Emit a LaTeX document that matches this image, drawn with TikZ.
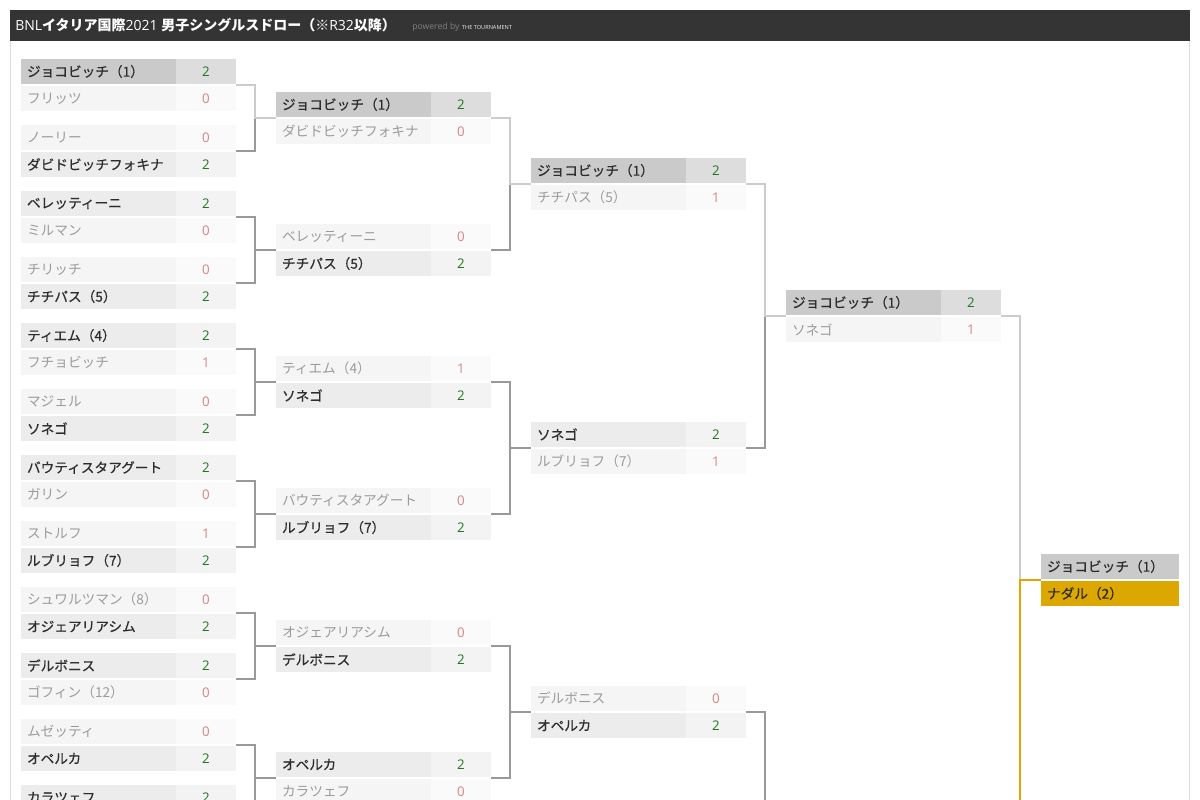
\documentclass[tikz,border=0pt]{standalone}
\usepackage{fontspec}
\setmainfont{Open Sans}
\newfontfamily\jpfont{Noto Sans CJK JP}
\newfontfamily\jpwin[FakeBold=0.6]{Noto Sans CJK JP}
\usetikzlibrary{positioning}
\definecolor{headgray}{RGB}{52, 52, 52}
\definecolor{panelline}{RGB}{221, 221, 221}
\definecolor{djgray}{RGB}{202, 202, 202}
\definecolor{djscoregray}{RGB}{221, 221, 221}
\definecolor{wingray}{RGB}{236, 236, 236}
\definecolor{winscoregray}{RGB}{243, 243, 243}
\definecolor{losegray}{RGB}{245, 245, 245}
\definecolor{losescoregray}{RGB}{250, 250, 250}
\definecolor{wintext}{RGB}{45, 45, 45}
\definecolor{losetext}{RGB}{155, 155, 155}
\definecolor{wingreen}{RGB}{30, 120, 30}
\definecolor{losered}{RGB}{214, 132, 132}
\definecolor{linegray}{RGB}{153, 153, 153}
\definecolor{djline}{RGB}{204, 204, 204}
\definecolor{nadalgold}{RGB}{220, 168, 0}

\begin{document}
\begin{tikzpicture}[
    x=0.75pt, y=-0.75pt,
    namecell/.style={
        anchor=north west, minimum height=18.75pt, outer sep=0pt,
        text width=107.25pt, align=left, inner xsep=4.5pt, inner ysep=0pt,
        font=\jpfont\fontsize{10.25}{12}\selectfont
    },
    winname/.style={namecell, fill=wingray, text=wintext, font=\jpwin\fontsize{10.25}{12}\selectfont},
    losename/.style={namecell, fill=losegray, text=losetext},
    djname/.style={winname, fill=djgray},
    finalname/.style={winname, text width=94.5pt},
    scorecell/.style={
        minimum width=45pt, minimum height=18.75pt, inner sep=0pt, outer sep=0pt,
        font=\fontsize{10}{12}\selectfont
    },
    winscore/.style={scorecell, fill=winscoregray, text=wingreen},
    losescore/.style={scorecell, fill=losescoregray, text=losered},
    djscore/.style={scorecell, fill=djscoregray, text=wingreen},
    link/.style={draw=linegray, line width=1.5pt},
    djlink/.style={draw=djline, line width=1.5pt},
    goldlink/.style={draw=nadalgold, line width=1.5pt}
]
\useasboundingbox (0,0) rectangle (1200,800);
\clip (0,0) rectangle (1200,800);
\fill[white] (0,0) rectangle (1200,800);

% HEADER
\fill[headgray] (10,10) rectangle (1190,41);
\draw[panelline, line width=0.75pt] (10.5,41) -- (10.5,800) (1189.5,41) -- (1189.5,800);
\node[anchor=west, inner sep=0pt, text=white, font=\fontsize{10.5}{12}\selectfont] (title) at (15,25)
    {BNL{\jpfont\bfseries イタリア国際}2021 {\jpfont\bfseries 男子シングルスドロー（※}R32{\jpfont\bfseries 以降）}};
\node[anchor=base west, inner sep=0pt, text=gray, font=\fontsize{6.5}{8}\selectfont] (powered) at (412,29) {powered by};
\node[anchor=base west, inner sep=0pt, text=white!85!gray, font=\fontsize{4.2}{5}\selectfont] (brand)
    at ([xshift=1.5pt]powered.base east) {THE TOURNAMENT};

% ROUND OF 32
\node[djname] (r1m0a) at (21,59) {ジョコビッチ（1）};
\node[djscore, right=0pt of r1m0a] (r1m0as) {2};
\node[losename, below=1.5pt of r1m0a] (r1m0b) {フリッツ};
\node[losescore, right=0pt of r1m0b] (r1m0bs) {0};

\node[losename] (r1m1a) at (21,125) {ノーリー};
\node[losescore, right=0pt of r1m1a] (r1m1as) {0};
\node[winname, below=1.5pt of r1m1a] (r1m1b) {ダビドビッチフォキナ};
\node[winscore, right=0pt of r1m1b] (r1m1bs) {2};

\node[winname] (r1m2a) at (21,191) {ベレッティーニ};
\node[winscore, right=0pt of r1m2a] (r1m2as) {2};
\node[losename, below=1.5pt of r1m2a] (r1m2b) {ミルマン};
\node[losescore, right=0pt of r1m2b] (r1m2bs) {0};

\node[losename] (r1m3a) at (21,257) {チリッチ};
\node[losescore, right=0pt of r1m3a] (r1m3as) {0};
\node[winname, below=1.5pt of r1m3a] (r1m3b) {チチパス（5）};
\node[winscore, right=0pt of r1m3b] (r1m3bs) {2};

\node[winname] (r1m4a) at (21,323) {ティエム（4）};
\node[winscore, right=0pt of r1m4a] (r1m4as) {2};
\node[losename, below=1.5pt of r1m4a] (r1m4b) {フチョビッチ};
\node[losescore, right=0pt of r1m4b] (r1m4bs) {1};

\node[losename] (r1m5a) at (21,389) {マジェル};
\node[losescore, right=0pt of r1m5a] (r1m5as) {0};
\node[winname, below=1.5pt of r1m5a] (r1m5b) {ソネゴ};
\node[winscore, right=0pt of r1m5b] (r1m5bs) {2};

\node[winname] (r1m6a) at (21,455) {バウティスタアグート};
\node[winscore, right=0pt of r1m6a] (r1m6as) {2};
\node[losename, below=1.5pt of r1m6a] (r1m6b) {ガリン};
\node[losescore, right=0pt of r1m6b] (r1m6bs) {0};

\node[losename] (r1m7a) at (21,521) {ストルフ};
\node[losescore, right=0pt of r1m7a] (r1m7as) {1};
\node[winname, below=1.5pt of r1m7a] (r1m7b) {ルブリョフ（7）};
\node[winscore, right=0pt of r1m7b] (r1m7bs) {2};

\node[losename] (r1m8a) at (21,587) {シュワルツマン（8）};
\node[losescore, right=0pt of r1m8a] (r1m8as) {0};
\node[winname, below=1.5pt of r1m8a] (r1m8b) {オジェアリアシム};
\node[winscore, right=0pt of r1m8b] (r1m8bs) {2};

\node[winname] (r1m9a) at (21,653) {デルボニス};
\node[winscore, right=0pt of r1m9a] (r1m9as) {2};
\node[losename, below=1.5pt of r1m9a] (r1m9b) {ゴフィン（12）};
\node[losescore, right=0pt of r1m9b] (r1m9bs) {0};

\node[losename] (r1m10a) at (21,719) {ムゼッティ};
\node[losescore, right=0pt of r1m10a] (r1m10as) {0};
\node[winname, below=1.5pt of r1m10a] (r1m10b) {オペルカ};
\node[winscore, right=0pt of r1m10b] (r1m10bs) {2};

\node[winname] (r1m11a) at (21,785) {カラツェフ};
\node[winscore, right=0pt of r1m11a] (r1m11as) {2};

% ROUND OF 16
\node[djname] (r2m0a) at (276,92) {ジョコビッチ（1）};
\node[djscore, right=0pt of r2m0a] (r2m0as) {2};
\node[losename, below=1.5pt of r2m0a] (r2m0b) {ダビドビッチフォキナ};
\node[losescore, right=0pt of r2m0b] (r2m0bs) {0};

\node[losename] (r2m1a) at (276,224) {ベレッティーニ};
\node[losescore, right=0pt of r2m1a] (r2m1as) {0};
\node[winname, below=1.5pt of r2m1a] (r2m1b) {チチパス（5）};
\node[winscore, right=0pt of r2m1b] (r2m1bs) {2};

\node[losename] (r2m2a) at (276,356) {ティエム（4）};
\node[losescore, right=0pt of r2m2a] (r2m2as) {1};
\node[winname, below=1.5pt of r2m2a] (r2m2b) {ソネゴ};
\node[winscore, right=0pt of r2m2b] (r2m2bs) {2};

\node[losename] (r2m3a) at (276,488) {バウティスタアグート};
\node[losescore, right=0pt of r2m3a] (r2m3as) {0};
\node[winname, below=1.5pt of r2m3a] (r2m3b) {ルブリョフ（7）};
\node[winscore, right=0pt of r2m3b] (r2m3bs) {2};

\node[losename] (r2m4a) at (276,620) {オジェアリアシム};
\node[losescore, right=0pt of r2m4a] (r2m4as) {0};
\node[winname, below=1.5pt of r2m4a] (r2m4b) {デルボニス};
\node[winscore, right=0pt of r2m4b] (r2m4bs) {2};

\node[winname] (r2m5a) at (276,752) {オペルカ};
\node[winscore, right=0pt of r2m5a] (r2m5as) {2};
\node[losename, below=1.5pt of r2m5a] (r2m5b) {カラツェフ};
\node[losescore, right=0pt of r2m5b] (r2m5bs) {0};

% QUARTER-FINALS
\node[djname] (qfm0a) at (531,158) {ジョコビッチ（1）};
\node[djscore, right=0pt of qfm0a] (qfm0as) {2};
\node[losename, below=1.5pt of qfm0a] (qfm0b) {チチパス（5）};
\node[losescore, right=0pt of qfm0b] (qfm0bs) {1};

\node[winname] (qfm1a) at (531,422) {ソネゴ};
\node[winscore, right=0pt of qfm1a] (qfm1as) {2};
\node[losename, below=1.5pt of qfm1a] (qfm1b) {ルブリョフ（7）};
\node[losescore, right=0pt of qfm1b] (qfm1bs) {1};

\node[losename] (qfm2a) at (531,686) {デルボニス};
\node[losescore, right=0pt of qfm2a] (qfm2as) {0};
\node[winname, below=1.5pt of qfm2a] (qfm2b) {オペルカ};
\node[winscore, right=0pt of qfm2b] (qfm2bs) {2};

% SEMI-FINAL AND FINAL
\node[djname] (sfm0a) at (786,290) {ジョコビッチ（1）};
\node[djscore, right=0pt of sfm0a] (sfm0as) {2};
\node[losename, below=1.5pt of sfm0a] (sfm0b) {ソネゴ};
\node[losescore, right=0pt of sfm0b] (sfm0bs) {1};

\node[finalname, fill=djgray] (fina) at (1041,554) {ジョコビッチ（1）};
\node[finalname, fill=nadalgold, below=1.5pt of fina] (finb) {ナダル（2）};

% free ends where the bracket runs off the bottom
\coordinate (r1cut) at (255,800);
\coordinate (qfcut) at (765,800);
\coordinate (sfcut) at (1020,800);

% BRACKET LINES: R32 -> R16
\draw[link] ([yshift=-0.75pt]r1m1as.south east) -- ++(19,0) |- ([yshift=-0.75pt]r2m0a.south west);
\draw[djlink] ([yshift=-0.75pt]r1m0as.south east) -- ++(19,0) |- ([yshift=-0.75pt]r2m0a.south west);
\draw[link] ([yshift=-0.75pt]r1m2as.south east) -- ++(19,0) |- ([yshift=-0.75pt]r2m1a.south west);
\draw[link] ([yshift=-0.75pt]r1m3as.south east) -- ++(19,0) |- ([yshift=-0.75pt]r2m1a.south west);
\draw[link] ([yshift=-0.75pt]r1m4as.south east) -- ++(19,0) |- ([yshift=-0.75pt]r2m2a.south west);
\draw[link] ([yshift=-0.75pt]r1m5as.south east) -- ++(19,0) |- ([yshift=-0.75pt]r2m2a.south west);
\draw[link] ([yshift=-0.75pt]r1m6as.south east) -- ++(19,0) |- ([yshift=-0.75pt]r2m3a.south west);
\draw[link] ([yshift=-0.75pt]r1m7as.south east) -- ++(19,0) |- ([yshift=-0.75pt]r2m3a.south west);
\draw[link] ([yshift=-0.75pt]r1m8as.south east) -- ++(19,0) |- ([yshift=-0.75pt]r2m4a.south west);
\draw[link] ([yshift=-0.75pt]r1m9as.south east) -- ++(19,0) |- ([yshift=-0.75pt]r2m4a.south west);
\draw[link] ([yshift=-0.75pt]r1m10as.south east) -- ++(19,0) |- ([yshift=-0.75pt]r2m5a.south west);
\draw[link] (r1cut) |- ([yshift=-0.75pt]r2m5a.south west);

% BRACKET LINES: R16 -> QF
\draw[link] ([yshift=-0.75pt]r2m1as.south east) -- ++(19,0) |- ([yshift=-0.75pt]qfm0a.south west);
\draw[djlink] ([yshift=-0.75pt]r2m0as.south east) -- ++(19,0) |- ([yshift=-0.75pt]qfm0a.south west);
\draw[link] ([yshift=-0.75pt]r2m2as.south east) -- ++(19,0) |- ([yshift=-0.75pt]qfm1a.south west);
\draw[link] ([yshift=-0.75pt]r2m3as.south east) -- ++(19,0) |- ([yshift=-0.75pt]qfm1a.south west);
\draw[link] ([yshift=-0.75pt]r2m4as.south east) -- ++(19,0) |- ([yshift=-0.75pt]qfm2a.south west);
\draw[link] ([yshift=-0.75pt]r2m5as.south east) -- ++(19,0) |- ([yshift=-0.75pt]qfm2a.south west);

% BRACKET LINES: QF -> SF -> F
\draw[link] ([yshift=-0.75pt]qfm1as.south east) -- ++(19,0) |- ([yshift=-0.75pt]sfm0a.south west);
\draw[djlink] ([yshift=-0.75pt]qfm0as.south east) -- ++(19,0) |- ([yshift=-0.75pt]sfm0a.south west);
\draw[link] ([yshift=-0.75pt]qfm2as.south east) -| (qfcut);
\draw[djlink] ([yshift=-0.75pt]sfm0as.south east) -- ++(19,0) |- ([yshift=-0.75pt]fina.south west);
\draw[goldlink] (sfcut) |- ([yshift=-0.75pt]fina.south west);

\end{tikzpicture}
\end{document}
